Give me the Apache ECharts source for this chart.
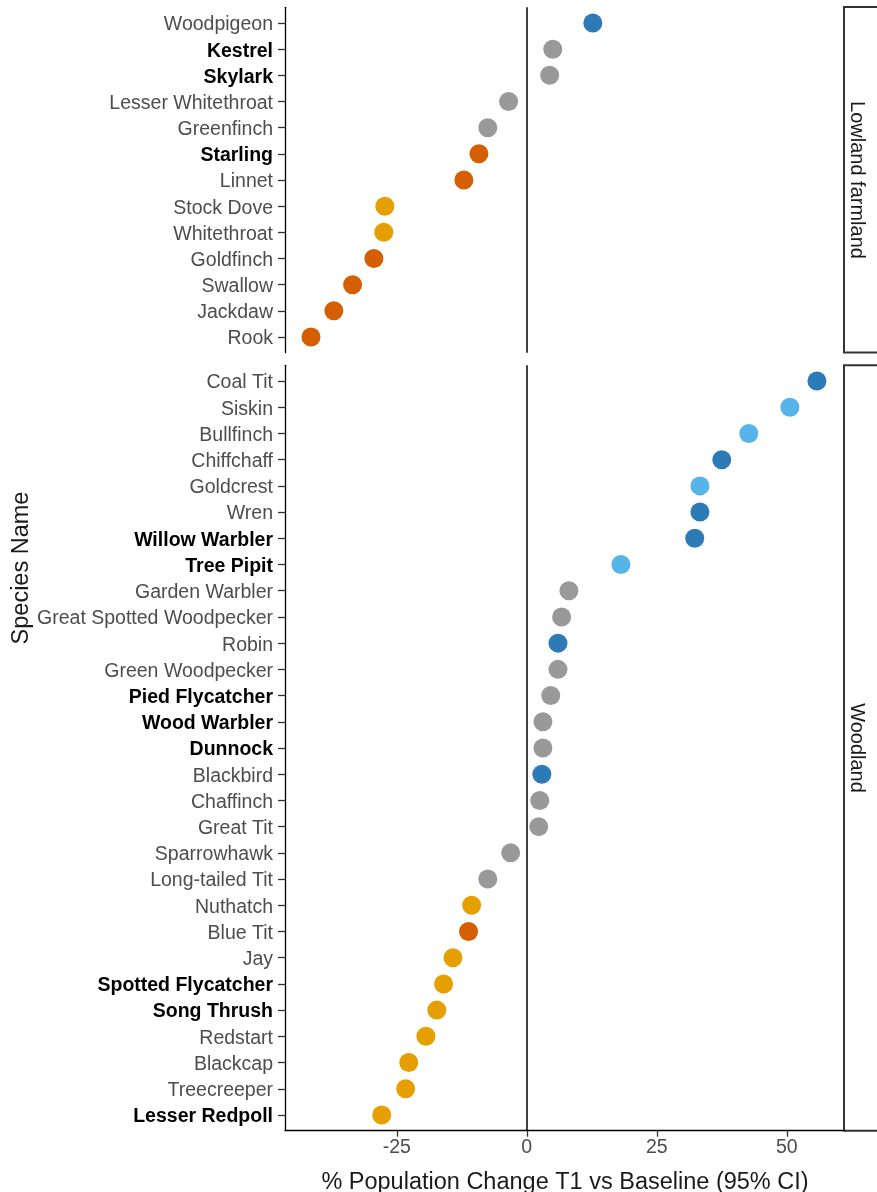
<!DOCTYPE html>
<html>
<head>
<meta charset="utf-8">
<script src="https://cdn.jsdelivr.net/npm/echarts@6/dist/echarts.min.js"></script>
<style>
  html, body { margin: 0; padding: 0; background: #fff; }
  #chart { width: 877px; height: 1192px; }
</style>
</head>
<body>
<div id="chart"></div>
<script>
// Lowland farmland panel
var farmSpecies = ['Woodpigeon', 'Kestrel', 'Skylark', 'Lesser Whitethroat', 'Greenfinch', 'Starling', 'Linnet',
    'Stock Dove', 'Whitethroat', 'Goldfinch', 'Swallow', 'Jackdaw', 'Rook'];
var farmChange = [12.7, 5.0, 4.4, -3.5, -7.5, -9.2, -12.1, -27.3, -27.5, -29.4, -33.5, -37.1, -41.5];
var farmStatus = ['inc', 'stable', 'stable', 'stable', 'stable', 'dec', 'dec', 'decW', 'decW', 'dec', 'dec', 'dec', 'dec'];

// Woodland panel
var woodSpecies = ['Coal Tit', 'Siskin', 'Bullfinch', 'Chiffchaff', 'Goldcrest', 'Wren', 'Willow Warbler', 'Tree Pipit',
    'Garden Warbler', 'Great Spotted Woodpecker', 'Robin', 'Green Woodpecker', 'Pied Flycatcher', 'Wood Warbler',
    'Dunnock', 'Blackbird', 'Chaffinch', 'Great Tit', 'Sparrowhawk', 'Long-tailed Tit', 'Nuthatch', 'Blue Tit', 'Jay',
    'Spotted Flycatcher', 'Song Thrush', 'Redstart', 'Blackcap', 'Treecreeper', 'Lesser Redpoll'];
var woodChange = [55.8, 50.6, 42.7, 37.5, 33.3, 33.3, 32.3, 18.1, 8.1, 6.7, 6.0, 6.0, 4.6, 3.1, 3.1, 2.9, 2.5, 2.3,
    -3.1, -7.5, -10.6, -11.2, -14.2, -16.0, -17.3, -19.4, -22.7, -23.3, -27.9];
var woodStatus = ['inc', 'incW', 'incW', 'inc', 'incW', 'inc', 'inc', 'incW', 'stable', 'stable', 'inc', 'stable',
    'stable', 'stable', 'stable', 'inc', 'stable', 'stable', 'stable', 'stable', 'decW', 'dec', 'decW', 'decW',
    'decW', 'decW', 'decW', 'decW', 'decW'];

// species shown in bold on the axis
var boldSpecies = ['Kestrel', 'Skylark', 'Starling', 'Willow Warbler', 'Tree Pipit', 'Pied Flycatcher', 'Wood Warbler',
    'Dunnock', 'Spotted Flycatcher', 'Song Thrush', 'Lesser Redpoll'];

var xTicks = [-25, 0, 25, 50];

var statusColor = {
    inc: '#2c7bb6',
    incW: '#56b4e9',
    stable: '#999999',
    decW: '#e69f00',
    dec: '#d55e00'
};

var FONT = '"Liberation Sans", Arial, sans-serif';
var X_MIN = -46.5, X_MAX = 61.2;

function idxList(n) {
    var a = [];
    for (var i = 0; i < n; i++) a.push(i);
    return a;
}

function makeData(vals, status) {
    var out = [];
    for (var i = 0; i < vals.length; i++) {
        out.push({ value: [vals[i], i], itemStyle: { color: statusColor[status[i]], opacity: 1 } });
    }
    return out;
}

function labelFmt(names) {
    return function (v) {
        var name = names[Math.round(v)];
        if (name === undefined) return '';
        return boldSpecies.indexOf(name) >= 0 ? '{b|' + name + '}' : '{n|' + name + '}';
    };
}

function yAxisFor(names, gridIndex) {
    return {
        type: 'value',
        gridIndex: gridIndex,
        inverse: true,
        min: -0.6,
        max: names.length - 0.4,
        splitLine: { show: false },
        axisLine: { show: true, onZero: false, lineStyle: { color: '#000', width: 1.3 } },
        axisTick: { show: true, length: 7, customValues: idxList(names.length), lineStyle: { color: '#333', width: 1.3 } },
        axisLabel: {
            customValues: idxList(names.length),
            margin: 12,
            formatter: labelFmt(names),
            rich: {
                n: { color: '#4d4d4d', fontSize: 19.5, fontFamily: FONT, padding: [4, 0, 0, 0] },
                b: { color: '#000', fontSize: 19.5, fontWeight: 'bold', fontFamily: FONT, padding: [4, 0, 0, 0] }
            }
        }
    };
}

var zeroLine = {
    silent: true,
    symbol: 'none',
    label: { show: false },
    lineStyle: { color: '#000', width: 1.5, type: 'solid' },
    data: [{ xAxis: 0 }]
};

var chart = echarts.init(document.getElementById('chart'));
var option = {
    animation: false,
    backgroundColor: '#fff',
    grid: [
        { left: 285, right: 32, top: 7.3, height: 345.4, outerBoundsMode: 'none' },
        { left: 285, right: 32, top: 365.3, height: 765.4, outerBoundsMode: 'none' }
    ],
    xAxis: [
        {
            type: 'value', gridIndex: 0, min: X_MIN, max: X_MAX,
            axisLine: { show: false }, axisTick: { show: false }, axisLabel: { show: false },
            splitLine: { show: false }
        },
        {
            type: 'value', gridIndex: 1, min: X_MIN, max: X_MAX,
            splitLine: { show: false },
            axisLine: { show: true, onZero: false, lineStyle: { color: '#000', width: 1.3 } },
            axisTick: { show: true, length: 6, customValues: xTicks, lineStyle: { color: '#333', width: 1.3 } },
            axisLabel: { customValues: xTicks, color: '#4d4d4d', fontSize: 19.5, fontFamily: FONT, margin: 7 },
            name: '% Population Change T1 vs Baseline (95% CI)',
            nameLocation: 'middle',
            nameGap: 40,
            nameMoveOverlap: false,
            nameTextStyle: { color: '#1a1a1a', fontSize: 23.5, fontFamily: FONT }
        }
    ],
    yAxis: [yAxisFor(farmSpecies, 0), yAxisFor(woodSpecies, 1)],
    series: [
        {
            type: 'scatter', xAxisIndex: 0, yAxisIndex: 0,
            symbolSize: 19,
            data: makeData(farmChange, farmStatus),
            markLine: zeroLine,
            z: 3
        },
        {
            type: 'scatter', xAxisIndex: 1, yAxisIndex: 1,
            symbolSize: 19,
            data: makeData(woodChange, woodStatus),
            markLine: zeroLine,
            z: 3
        }
    ],
    graphic: [
        // facet strips
        { type: 'rect', shape: { x: 844, y: 7, width: 60, height: 345.4 },
          style: { fill: '#fff', stroke: '#333', lineWidth: 2 } },
        { type: 'text', x: 857, y: 180, rotation: -Math.PI / 2,
          style: { text: 'Lowland farmland', fill: '#1a1a1a', fontSize: 20, fontFamily: FONT,
                   align: 'center', verticalAlign: 'middle' } },
        { type: 'rect', shape: { x: 844, y: 365.3, width: 60, height: 765.4 },
          style: { fill: '#fff', stroke: '#333', lineWidth: 2 } },
        { type: 'text', x: 857, y: 748, rotation: -Math.PI / 2,
          style: { text: 'Woodland', fill: '#1a1a1a', fontSize: 20, fontFamily: FONT,
                   align: 'center', verticalAlign: 'middle' } },
        // shared y axis title
        { type: 'text', x: 22, y: 568, rotation: Math.PI / 2,
          style: { text: 'Species Name', fill: '#1a1a1a', fontSize: 23.5, fontFamily: FONT,
                   align: 'center', verticalAlign: 'middle' } }
    ]
};
chart.setOption(option);
</script>
</body>
</html>
